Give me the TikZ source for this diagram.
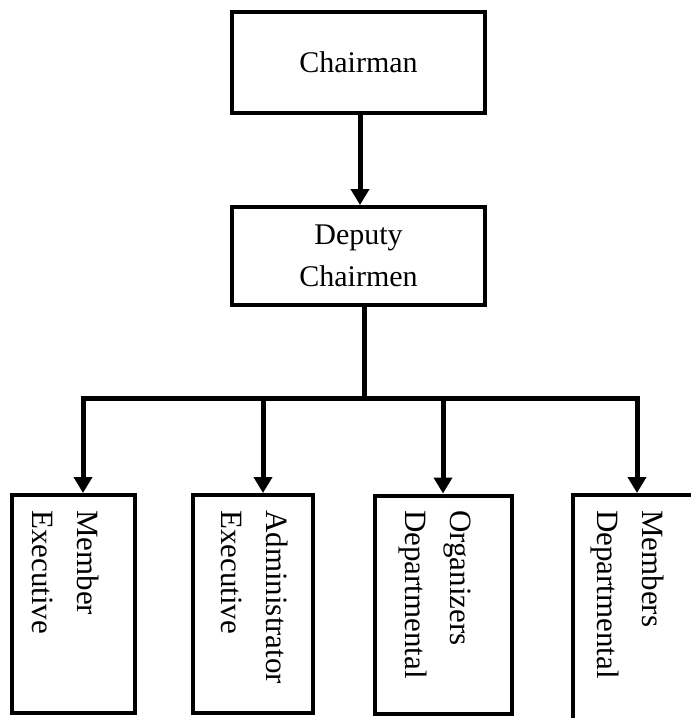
\documentclass[tikz,border=0pt]{standalone}
\usepackage{fontspec}
\setmainfont{Liberation Serif}
\usetikzlibrary{positioning, arrows.meta}

\begin{document}
\begin{tikzpicture}[x=1pt, y=-1pt, >={Triangle[length=16pt,width=18pt]},
  topbox/.style={draw, line width=4pt, minimum width=253pt, align=center,
    font=\fontsize{30}{42}\selectfont},
  unitbox/.style={draw, line width=4pt, minimum height=218pt},
  unittext/.style={rotate=-90, anchor=west, align=left, inner sep=0pt,
    font=\fontsize{31}{45}\selectfont},
  link/.style={line width=5pt}]
  \useasboundingbox (0,0) rectangle (691,718);
  \clip (0,0) rectangle (691,718);
  % top of the chart
  \node[topbox, minimum height=101pt] (chair) at (358.5,62.5) {Chairman};
  \node[topbox, minimum height=98pt] (deputy) at (358.5,256) {Deputy\\Chairmen};
  \draw[link,->] (chair.south -| 360,0) -- (deputy.north -| 360,0);
  % the four units
  \node[unitbox, minimum width=123pt] (member) at (73.5,604) {};
  \node[unitbox, minimum width=120pt] (admin) at (253,604) {};
  \node[unitbox, minimum width=137pt] (organ) at (443.5,604.5) {};
  \node[unitbox, minimum width=123pt, minimum height=260pt] (members) at (634.5,625) {};
  \node[unittext] (tmember) at (65.5,510) {Member\\Executive};
  \node[unittext] (tadmin) at (255,510) {Administrator\\Executive};
  \node[unittext] (torgan) at (435,510) {Organizers\\Departmental};
  \node[unittext] (tmembers) at (627.5,510) {Members\\Departmental};
  % bus line
  \coordinate (split) at (364,398);
  \coordinate (bus1) at (83,398);
  \coordinate (bus2) at (263,398);
  \coordinate (bus3) at (443,398);
  \coordinate (bus4) at (637,398);
  \draw[link] (deputy.south -| split) -- (split);
  \draw[link,line join=miter] (bus1 |- member.north) ++(0,-20) -- (bus1) -- (bus4) -- ++(0,20);
  \draw[link,->] (bus1) -- (bus1 |- member.north);
  \draw[link,->] (bus2) -- (bus2 |- admin.north);
  \draw[link,->] (bus3) -- (bus3 |- organ.north);
  \draw[link,->] (bus4) -- (bus4 |- members.north);
\end{tikzpicture}
\end{document}
